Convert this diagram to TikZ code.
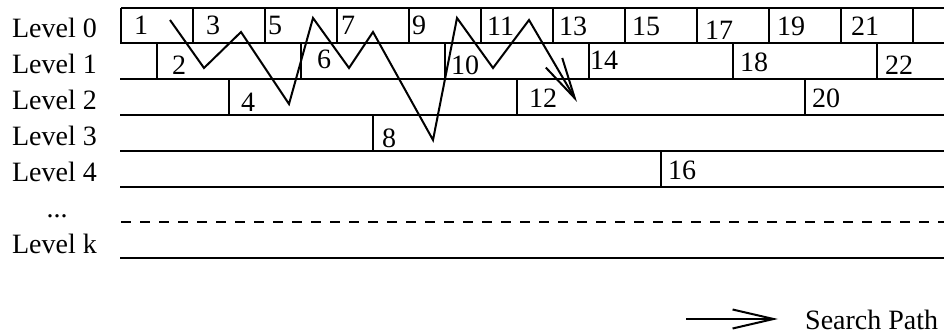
\documentclass[tikz,border=0pt]{standalone}
\usepackage{fontspec}
\setmainfont{Liberation Serif}
\usetikzlibrary{arrows.meta}
\begin{document}
\begin{tikzpicture}[x=1pt,y=-1pt,
  grid/.style={line width=1.2pt},
  dashgrid/.style={line width=1.2pt, dash pattern=on 10pt off 9pt},
  pathline/.style={line width=2pt, line join=miter, -{Straight Barb[length=41pt,width=19pt]}},
  lbl/.style={anchor=base east, inner sep=0pt, font=\fontsize{28}{32}\selectfont},
  num/.style={anchor=base west, inner sep=0pt, font=\fontsize{28}{32}\selectfont},
]
\useasboundingbox (0,0) rectangle (944,336);
\begin{scope}
\clip (0,0) rectangle (944,336);
% horizontal lines
\draw[grid] (121,8) -- (944,8);
\foreach \y in {43,79,115,151,187,258} \draw[grid] (120,\y) -- (944,\y);
\draw[dashgrid] (121,222) -- (944,222);
% vertical dividers
\foreach \x in {121,193,...,913} \draw[grid] (\x,8) -- (\x,43);
\foreach \x in {157,301,...,877} \draw[grid] (\x,43) -- (\x,79);
\foreach \x in {229,517,805} \draw[grid] (\x,79) -- (\x,115);
\draw[grid] (373,115) -- (373,151);
\draw[grid] (661,151) -- (661,187);
\end{scope}
% level labels
\node[lbl] (l0) at (97,38) {Level 0};
\node[lbl] (l1) at (97,74) {Level 1};
\node[lbl] (l2) at (97,110) {Level 2};
\node[lbl] (l3) at (97,146) {Level 3};
\node[lbl] (l4) at (97,182) {Level 4};
\node[anchor=base, inner sep=0pt, font=\fontsize{28}{32}\selectfont] (ld) at (57,218) {...};
\node[lbl] (lk) at (97,254) {Level k};
% numbers level 0
\node[num] (n1) at (134,35) {1};
\node[num] (n3) at (206,35) {3};
\node[num] (n5) at (268,35) {5};
\node[num] (n7) at (341,35) {7};
\node[num] (n9) at (412,35) {9};
\node[num] (n11) at (487,36) {11};
\node[num] (n13) at (559,36) {13};
\node[num] (n15) at (632,36) {15};
\node[num] (n17) at (705,40) {17};
\node[num] (n19) at (777,36) {19};
\node[num] (n21) at (851,36) {21};
% level 1
\node[num] (n2) at (172,75) {2};
\node[num] (n6) at (317,69) {6};
\node[num] (n10) at (451,75) {10};
\node[num] (n14) at (590,70) {14};
\node[num] (n18) at (740,72) {18};
\node[num] (n22) at (885,75) {22};
% level 2
\node[num] (n4) at (241,112) {4};
\node[num] (n12) at (529,108) {12};
\node[num] (n20) at (812,108) {20};
% level 3
\node[num] (n8) at (382,148) {8};
% level 4
\node[num] (n16) at (668,180) {16};
% search path
\coordinate (p0) at (170,20);
\coordinate (p1) at (204,68);
\coordinate (p2) at (241,32);
\coordinate (p3) at (289,104);
\coordinate (p4) at (313,18);
\coordinate (p5) at (349,68);
\coordinate (p6) at (373,32);
\coordinate (p7) at (433,140);
\coordinate (p8) at (457,18);
\coordinate (p9) at (493,68);
\coordinate (p10) at (529,20);
\coordinate (p11) at (577,102);
\draw[pathline] (p0) -- (p1) -- (p2) -- (p3) -- (p4) -- (p5) -- (p6) -- (p7) -- (p8) -- (p9) -- (p10) -- (p11);
% legend
\coordinate (la) at (686,319);
\coordinate (lb) at (778,319);
\draw[pathline] (la) -- (lb);
\node[num] (sp) at (805,329) {Search Path};
\end{tikzpicture}
\end{document}
